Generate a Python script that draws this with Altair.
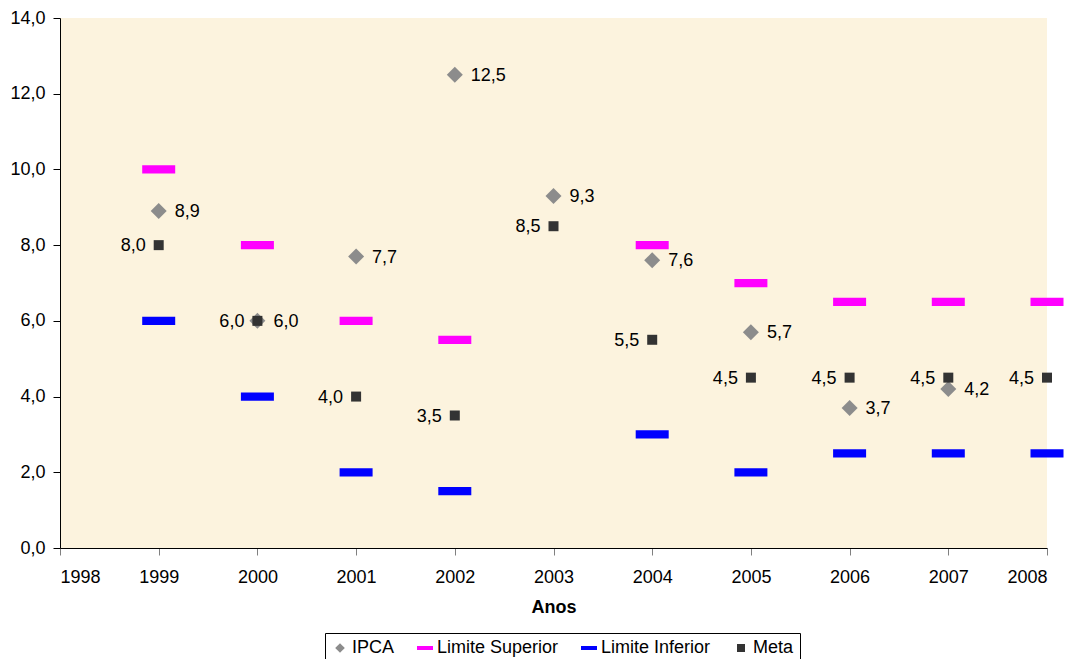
import altair as alt
import pandas as pd

years = [1999, 2000, 2001, 2002, 2003, 2004, 2005, 2006, 2007, 2008]
ipca = [8.9, 6.0, 7.7, 12.5, 9.3, 7.6, 5.7, 3.7, 4.2, None]
lim_sup = [10.0, 8.0, 6.0, 5.5, None, 8.0, 7.0, 6.5, 6.5, 6.5]
lim_inf = [6.0, 4.0, 2.0, 1.5, None, 3.0, 2.0, 2.5, 2.5, 2.5]
meta = [8.0, 6.0, 4.0, 3.5, 8.5, 5.5, 4.5, 4.5, 4.5, 4.5]

series_names = ["IPCA", "Limite Superior", "Limite Inferior", "Meta"]
series_vals = [ipca, lim_sup, lim_inf, meta]

rows = []
for name, vals in zip(series_names, series_vals):
    for y, v in zip(years, vals):
        if v is not None:
            rows.append({"Ano": y, "Valor": v, "Serie": name})
df = pd.DataFrame(rows)

FONT = "Liberation Sans"
FS = 18

bar_path = "M-1,-0.25H1V0.25H-1Z"
diamond_path = "M0,-0.6L0.6,0L0,0.6L-0.6,0Z"
square_path = "M-0.5,-0.5H0.5V0.5H-0.5Z"

color_scale = alt.Scale(domain=series_names,
                        range=["#8C8C8C", "#FF00FF", "#0000FF", "#333333"])
shape_scale = alt.Scale(domain=series_names,
                        range=[diamond_path, bar_path, bar_path, square_path])

xscale = alt.Scale(domain=[1998, 2008], nice=False, zero=False)
yscale = alt.Scale(domain=[0, 14], nice=False)

x_enc = alt.X("Ano:Q", scale=xscale, title="Anos",
              axis=alt.Axis(values=list(range(1998, 2009)), format="d",
                            grid=False, tickSize=7, tickColor="#808080",
                            domainColor="#000000", labelFontSize=FS,
                            labelColor="#000000", titleFontSize=FS,
                            titleFontWeight="bold", titleColor="#000000",
                            labelPadding=13, titlePadding=12,
                            labelFont=FONT, titleFont=FONT))
y_enc = alt.Y("Valor:Q", scale=yscale, title=None,
              axis=alt.Axis(values=list(range(0, 15, 2)), grid=False, tickSize=7,
                            tickColor="#000000", domainColor="#000000",
                            labelFontSize=FS, labelColor="#000000", labelPadding=8,
                            labelFont=FONT,
                            labelExpr="replace(format(datum.value, '.1f'), '.', ',')"))
color_enc = alt.Color("Serie:N", scale=color_scale, sort=series_names,
                      legend=alt.Legend(title=None, orient="none", direction="horizontal",
                                        legendX=265, legendY=615, columns=4,
                                        labelFontSize=FS, labelFont=FONT,
                                        labelColor="#000000", strokeColor="#000000",
                                        padding=6, columnPadding=21, symbolSize=256,
                                        labelOffset=3, symbolOpacity=1,
                                        symbolStrokeWidth=0, fillColor="#FFFFFF"))
shape_enc = alt.Shape("Serie:N", scale=shape_scale, sort=series_names)

base = alt.Chart(df)


def layer_for(name, size):
    return base.transform_filter(alt.datum.Serie == name).mark_point(
        filled=True, opacity=1, strokeWidth=0, size=size
    ).encode(x=x_enc, y=y_enc, color=color_enc, shape=shape_enc)


bars_sup = layer_for("Limite Superior", 1089)
bars_inf = layer_for("Limite Inferior", 1089)
pts_ipca = layer_for("IPCA", 711)
pts_meta = layer_for("Meta", 400)

ipca_labels = base.transform_filter(alt.datum.Serie == "IPCA").transform_calculate(
    lbl="replace(format(datum.Valor, '.1f'), '.', ',')"
).mark_text(align="left", baseline="middle", dx=16, dy=1, fontSize=FS,
            font=FONT, color="#000000").encode(
    x=alt.X("Ano:Q", scale=xscale), y=alt.Y("Valor:Q", scale=yscale), text="lbl:N")

meta_labels = base.transform_filter(alt.datum.Serie == "Meta").transform_calculate(
    lbl="replace(format(datum.Valor, '.1f'), '.', ',')"
).mark_text(align="right", baseline="middle", dx=-13, dy=1, fontSize=FS,
            font=FONT, color="#000000").encode(
    x=alt.X("Ano:Q", scale=xscale), y=alt.Y("Valor:Q", scale=yscale), text="lbl:N")

chart = alt.layer(bars_sup, bars_inf, pts_ipca, pts_meta, ipca_labels, meta_labels).properties(
    width=987, height=530,
    background="#FFFFFF",
    autosize=alt.AutoSizeParams(type="none"),
    padding={"left": 60, "top": 18, "right": 20, "bottom": 111},
).configure_view(fill="#FCF3DE", stroke=None)

chart.save("out.html", embed_options={"renderer": "svg", "actions": False})
